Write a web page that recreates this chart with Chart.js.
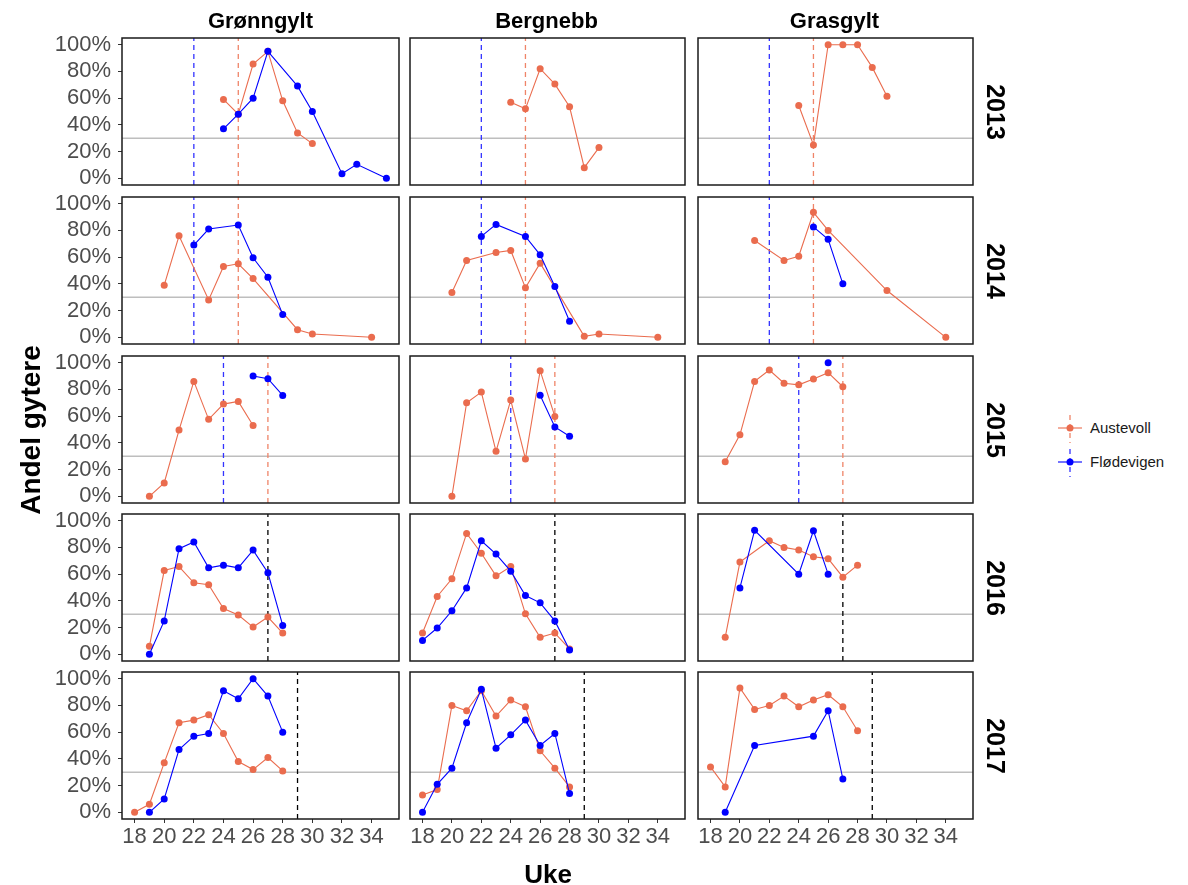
<!DOCTYPE html>
<html>
<head>
<meta charset="utf-8">
<script src="https://cdn.jsdelivr.net/npm/chart.js@4.4.1/dist/chart.umd.min.js"></script>
<style>
  body { margin: 0; width: 1188px; height: 885px; background: #fff; position: relative; overflow: hidden;
         font-family: "Liberation Sans", Arial, sans-serif; }
  canvas { position: absolute; }
  .lab { position: absolute; font-weight: bold; color: #000; white-space: nowrap; }
  .leg { position: absolute; font-size: 15px; color: #1a1a1a; }
</style>
</head>
<body>
<script>
// facets
const species = ['Grønngylt', 'Bergnebb', 'Grasgylt'];
const years = ['2013', '2014', '2015', '2016', '2017'];
const ukeTicks = [18, 20, 22, 24, 26, 28, 30, 32, 34];
const andelTicks = [0, 0.2, 0.4, 0.6, 0.8, 1.0];
const terskel = 0.3;

// [uke, andel] per year 2013..2017
const gronngyltAustevoll = [
  [[24,.59],[25,.48],[26,.855],[27,.95],[28,.58],[29,.34],[30,.26]],
  [[20,.39],[21,.76],[23,.28],[24,.53],[25,.55],[26,.44],[29,.057],[30,.025],[34,0]],
  [[19,0],[20,.10],[21,.496],[22,.86],[23,.576],[24,.69],[25,.71],[26,.53]],
  [[19,.06],[20,.627],[21,.657],[22,.535],[23,.52],[24,.343],[25,.294],[26,.204],[27,.279],[28,.159]],
  [[18,0],[19,.06],[20,.37],[21,.67],[22,.69],[23,.73],[24,.59],[25,.38],[26,.32],[27,.41],[28,.31]]
];
const gronngyltFlodevigen = [
  [[24,.37],[25,.48],[26,.60],[27,.95],[29,.69],[30,.50],[32,.035],[33,.105],[35,0]],
  [[22,.69],[23,.81],[25,.84],[26,.595],[27,.45],[28,.17]],
  [[26,.90],[27,.88],[28,.755]],
  [[19,0],[20,.25],[21,.79],[22,.84],[23,.647],[24,.667],[25,.647],[26,.78],[27,.61],[28,.216]],
  [[19,0],[20,.10],[21,.47],[22,.57],[23,.59],[24,.91],[25,.85],[26,1.0],[27,.87],[28,.60]]
];
const bergnebbAustevoll = [
  [[24,.57],[25,.52],[26,.82],[27,.705],[28,.535],[29,.08],[30,.23]],
  [[20,.335],[21,.575],[23,.635],[24,.65],[25,.37],[26,.555],[29,.0075],[30,.025],[34,0]],
  [[20,0],[21,.70],[22,.78],[23,.337],[24,.72],[25,.28],[26,.94],[27,.598]],
  [[18,.159],[19,.433],[20,.565],[21,.905],[22,.756],[23,.587],[24,.657],[25,.303],[26,.127],[27,.159],[28,.04]],
  [[18,.13],[19,.17],[20,.80],[21,.76],[22,.91],[23,.72],[24,.84],[25,.79],[26,.46],[27,.33],[28,.19]]
];
const bergnebbFlodevigen = [
  [],
  [[22,.755],[23,.845],[25,.755],[26,.617],[27,.38],[28,.12]],
  [[26,.757],[27,.519],[28,.449]],
  [[18,.104],[19,.197],[20,.326],[21,.497],[22,.85],[23,.75],[24,.622],[25,.44],[26,.385],[27,.25],[28,.032]],
  [[18,0],[19,.21],[20,.33],[21,.67],[22,.92],[23,.48],[24,.58],[25,.69],[26,.5],[27,.59],[28,.14]]
];
const grasgyltAustevoll = [
  [[24,.545],[25,.25],[26,1],[27,1],[28,1],[29,.83],[30,.615]],
  [[21,.724],[23,.575],[24,.607],[25,.935],[26,.80],[30,.35],[34,0]],
  [[19,.258],[20,.46],[21,.86],[22,.945],[23,.846],[24,.834],[25,.878],[26,.925],[27,.82]],
  [[19,.127],[20,.69],[22,.85],[23,.80],[24,.78],[25,.73],[26,.716],[27,.577],[28,.667]],
  [[18,.34],[19,.19],[20,.93],[21,.77],[22,.80],[23,.87],[24,.79],[25,.84],[26,.88],[27,.79],[28,.61]]
];
const grasgyltFlodevigen = [
  [],
  [[25,.826],[26,.734],[27,.40]],
  [[26,1.0]],
  [[20,.497],[21,.928],[24,.60],[25,.925],[26,.60]],
  [[19,0],[21,.50],[25,.57],[26,.76],[27,.25]]
];

// dashed marker weeks per year
const austevollMark = [25, 25, 27, null, null];
const flodevigenMark = [22, 22, 24, null, null];
const felles = [null, null, null, 27, 29];

const austevoll = [gronngyltAustevoll, bergnebbAustevoll, grasgyltAustevoll];
const flodevigen = [gronngyltFlodevigen, bergnebbFlodevigen, grasgyltFlodevigen];

const orange = '#EA6C4E', orangeLine = '#EF8468', blue = '#0000FF', blueLine = '#3333FF';
const xMin = 17.15, xMax = 35.85, yMin = -0.05, yMax = 1.05;

const colLeft = [122, 408, 696];
const rowTop = [38, 197, 356, 514, 672];
const panelW = 277, panelH = 147;
const font = '"Liberation Sans", Arial, sans-serif';

const panelFrame = {
  id: 'panelFrame',
  afterDatasetsDraw(chart) {
    const a = chart.chartArea, ctx = chart.ctx;
    ctx.save();
    ctx.strokeStyle = '#1a1a1a';
    ctx.lineWidth = 1.5;
    ctx.strokeRect(a.left, a.top, a.right - a.left, a.bottom - a.top);
    ctx.restore();
  }
};

function vline(week, color) {
  return {
    data: [{x: week, y: yMin}, {x: week, y: yMax}],
    borderColor: color, borderWidth: 1.3, borderDash: [5, 4],
    pointRadius: 0, order: 5
  };
}

function series(pairs, color, order) {
  return {
    data: pairs.map(p => ({x: p[0], y: p[1]})),
    borderColor: color, backgroundColor: color, borderWidth: 1.1,
    pointRadius: 3.5, pointBorderWidth: 0, order: order
  };
}

years.forEach((yr, r) => {
  species.forEach((sp, c) => {
    const showY = c === 0, showX = r === 4;
    const padL = showY ? 74 : 2;
    const padT = 12, padR = 12;
    const padB = showX ? 36 : 4;
    const w = padL + panelW + padR, h = padT + panelH + padB;
    const cv = document.createElement('canvas');
    cv.width = w;
    cv.height = h;
    cv.style.width = w + 'px';
    cv.style.height = h + 'px';
    cv.style.left = (colLeft[c] - padL) + 'px';
    cv.style.top = (rowTop[r] - padT) + 'px';
    document.body.appendChild(cv);

    const datasets = [
      {
        data: [{x: xMin, y: terskel}, {x: xMax, y: terskel}],
        borderColor: '#BEBEBE', borderWidth: 1.4, pointRadius: 0, order: 6
      }
    ];
    if (austevollMark[r] !== null) datasets.push(vline(austevollMark[r], orangeLine));
    if (flodevigenMark[r] !== null) datasets.push(vline(flodevigenMark[r], blueLine));
    if (felles[r] !== null) datasets.push(vline(felles[r], '#000'));
    datasets.push(series(austevoll[c][r], orange, 2));
    datasets.push(series(flodevigen[c][r], blue, 1));

    new Chart(cv, {
      type: 'line',
      data: { datasets: datasets },
      options: {
        responsive: false,
        maintainAspectRatio: false,
        animation: false,
        events: [],
        layout: { padding: { left: showY ? 0 : padL, right: padR, top: padT, bottom: showX ? 0 : padB } },
        plugins: { legend: { display: false }, tooltip: { enabled: false } },
        scales: {
          x: {
            type: 'linear', min: xMin, max: xMax,
            display: showX,
            afterBuildTicks: s => { s.ticks = ukeTicks.map(v => ({value: v})); },
            afterFit: s => {
              if (showX) s.height = padB;
              s.paddingLeft = 0; s.paddingRight = 0;
            },
            grid: { drawOnChartArea: false, drawTicks: true, tickLength: 4, color: '#333' },
            border: { display: false },
            ticks: { color: '#4D4D4D', padding: 1, maxRotation: 0, autoSkip: false,
                     font: { family: font, size: 22 } }
          },
          y: {
            type: 'linear', min: yMin, max: yMax,
            display: showY,
            afterBuildTicks: s => { s.ticks = andelTicks.map(v => ({value: v})); },
            afterFit: s => {
              if (showY) s.width = padL;
              s.paddingTop = 0; s.paddingBottom = 0;
            },
            grid: { drawOnChartArea: false, drawTicks: true, tickLength: 4, color: '#333' },
            border: { display: false },
            ticks: { color: '#4D4D4D', padding: 7, autoSkip: false,
                     font: { family: font, size: 22 },
                     callback: v => Math.round(v * 100) + '%' }
          }
        }
      },
      plugins: [panelFrame]
    });
  });
});

function label(text, x, y, size, rot) {
  const d = document.createElement('div');
  d.className = 'lab';
  d.textContent = text;
  d.style.fontSize = size + 'px';
  d.style.left = x + 'px';
  d.style.top = y + 'px';
  d.style.transform = 'translate(-50%, -50%)' + (rot ? ' rotate(' + rot + 'deg)' : '');
  document.body.appendChild(d);
}

species.forEach((sp, c) => label(sp, colLeft[c] + panelW / 2, 21, 22, 0));
years.forEach((yr, r) => label(yr, 995, rowTop[r] + panelH / 2, 25, 90));
label('Andel gytere', 31, 430, 28, -90);
label('Uke', 548, 874, 26, 0);

// legend
const legendItems = [['Austevoll', orange, orangeLine], ['Flødevigen', blue, blueLine]];
legendItems.forEach((it, i) => {
  const y = 415 + i * 34;
  const key = document.createElementNS('http://www.w3.org/2000/svg', 'svg');
  key.setAttribute('width', 26);
  key.setAttribute('height', 28);
  key.style.position = 'absolute';
  key.style.left = '1057px';
  key.style.top = y + 'px';
  key.innerHTML =
    '<line x1="13" y1="0" x2="13" y2="28" stroke="' + it[2] + '" stroke-width="1.3" stroke-dasharray="5 4"/>' +
    '<line x1="1" y1="13" x2="25" y2="13" stroke="' + it[1] + '" stroke-width="1.1"/>' +
    '<circle cx="13" cy="13" r="3.5" fill="' + it[1] + '"/>';
  document.body.appendChild(key);
  const t = document.createElement('div');
  t.className = 'leg';
  t.textContent = it[0];
  t.style.left = '1090px';
  t.style.top = (y + 4) + 'px';
  document.body.appendChild(t);
});
</script>
</body>
</html>
